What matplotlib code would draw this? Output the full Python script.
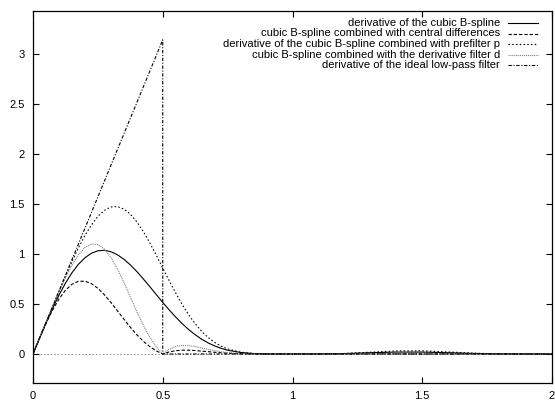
import matplotlib
matplotlib.use('Agg')
import matplotlib.pyplot as plt
from matplotlib.lines import Line2D

plt.rcParams['font.family'] = ['Liberation Sans', 'DejaVu Sans']
plt.rcParams['lines.scale_dashes'] = False

# frequency axis and responses
nu = [0, 0.025, 0.05, 0.075, 0.1, 0.125, 0.15, 0.175, 0.2, 0.225, 0.25, 0.275,
      0.3, 0.325, 0.35, 0.375, 0.4, 0.425, 0.45, 0.475, 0.5, 0.525, 0.55, 0.575,
      0.6, 0.625, 0.65, 0.675, 0.7, 0.725, 0.75,
      0.8, 0.85, 0.9, 0.95, 1.0,
      1.1, 1.2, 1.3, 1.4, 1.5, 1.6, 1.7, 1.8, 1.9, 2.0]
bspline_deriv = [0, 0.1564, 0.309, 0.4541, 0.588, 0.7083, 0.812, 0.8970, 0.962,
                 1.0074, 1.032, 1.0370, 1.023, 0.9931, 0.948, 0.8911, 0.825, 0.7512,
                 0.674, 0.5945, 0.516, 0.4403, 0.369, 0.3033, 0.244, 0.1925, 0.148,
                 0.1109, 0.081, 0.0566, 0.038,
                 0.015, 0.0045, 0.0008, 0.00004, 0,
                 0.0004, 0.0044, 0.0126, 0.0193, 0.0191, 0.0129, 0.0056, 0.0013,
                 0.0001, 0]
central_diff = [0, 0.1558, 0.304, 0.4375, 0.550, 0.6377, 0.697, 0.7269, 0.728,
                0.7038, 0.657, 0.5928, 0.516, 0.4333, 0.349, 0.2674, 0.193, 0.1277,
                0.074, 0.0312, 0, 0.0209, 0.033, 0.0381, 0.038, 0.0347, 0.029,
                0.0233, 0.017, 0.0123, 0.008,
                0.0028, 0.0007, 0.0001, 0, 0,
                0, 0.0006, 0.0015, 0.0013, 0, 0.0008, 0.0005, 0.0001, 0, 0]
prefilter_p = [0, 0.1570, 0.314, 0.4706, 0.626, 0.7775, 0.924, 1.0603, 1.184,
               1.2907, 1.376, 1.4367, 1.470, 1.4744, 1.450, 1.3982, 1.322, 1.2247,
               1.112, 0.9884, 0.860, 0.7320, 0.609, 0.4945, 0.392, 0.3020, 0.226,
               0.1646, 0.116, 0.0784, 0.051,
               0.0185, 0.0051, 0.0009, 0.00004, 0,
               0.0005, 0.0054, 0.0181, 0.0309, 0.0318, 0.0207, 0.0080, 0.0016,
               0.0001, 0]
deriv_filter_d = [0, 0.1571, 0.314, 0.4693, 0.620, 0.7622, 0.888, 0.9915, 1.064,
                  1.0996, 1.095, 1.0498, 0.967, 0.8533, 0.718, 0.5717, 0.425, 0.2887,
                  0.169, 0.0725, 0, 0.0486, 0.076, 0.0861, 0.084, 0.0741, 0.060,
                  0.0459, 0.033, 0.0218, 0.0135,
                  0.0042, 0.0009, 0.0001, 0, 0,
                  0, 0.0008, 0.0027, 0.0028, 0, 0.0017, 0.0009, 0.0002, 0, 0]
ideal_nu = [0, 0.5, 0.5, 2.0]
ideal_lowpass = [0, 3.1416, 0, 0]

labels = ['derivative of the cubic B-spline',
          'cubic B-spline combined with central differences',
          'derivative of the cubic B-spline combined with prefilter p',
          'cubic B-spline combined with the derivative filter d',
          'derivative of the ideal low-pass filter']

W, H = 555, 401
fig = plt.figure(figsize=(W / 100, H / 100), dpi=100)
ax = fig.add_axes([33 / W, (H - 383) / H, 519 / W, 372 / H])

ax.axhline(0, color='#888888', lw=0.7, ls=(0, (1, 1.5)), zorder=1)

lw = 0.8
styles = [
    dict(color='black', ls='-'),
    dict(color='black', ls=(0, (2.4, 1.4))),
    dict(color='black', ls=(0, (1.1, 1.6))),
    dict(color='#777777', ls=(0, (0.7, 0.7))),
    dict(color='black', ls=(0, (2.4, 1.2, 0.8, 1.2))),
]
series = [(nu, bspline_deriv), (nu, central_diff), (nu, prefilter_p),
          (nu, deriv_filter_d), (ideal_nu, ideal_lowpass)]
for (xs, ys), st in zip(series, styles):
    ax.plot(xs, ys, lw=lw, **st)

ax.set_xlim(0, 2)
ax.set_ylim(-0.29, 3.43)
ax.set_xticks([0, 0.5, 1, 1.5, 2])
ax.set_xticklabels(['0', '0.5', '1', '1.5', '2'])
ax.set_yticks([0, 0.5, 1, 1.5, 2, 2.5, 3])
ax.set_yticklabels(['0', '0.5', '1', '1.5', '2', '2.5', '3'])
ax.tick_params(direction='in', length=4, width=0.8, top=True, right=True,
               labelsize=8, pad=6)
for s in ax.spines.values():
    s.set_linewidth(0.9)

# legend drawn by hand: right-aligned text with line samples to the right
rows_y = [22.7, 33.5, 44, 54.5, 64.5]
for lab, st, y in zip(labels, styles, rows_y):
    fy = 1 - y / H
    fig.text(500 / W, fy, lab, ha='right', va='center', fontsize=8)
    fig.add_artist(Line2D([508 / W, 538 / W], [fy, fy], lw=lw, **st))

fig.savefig('out.png', dpi=100)
